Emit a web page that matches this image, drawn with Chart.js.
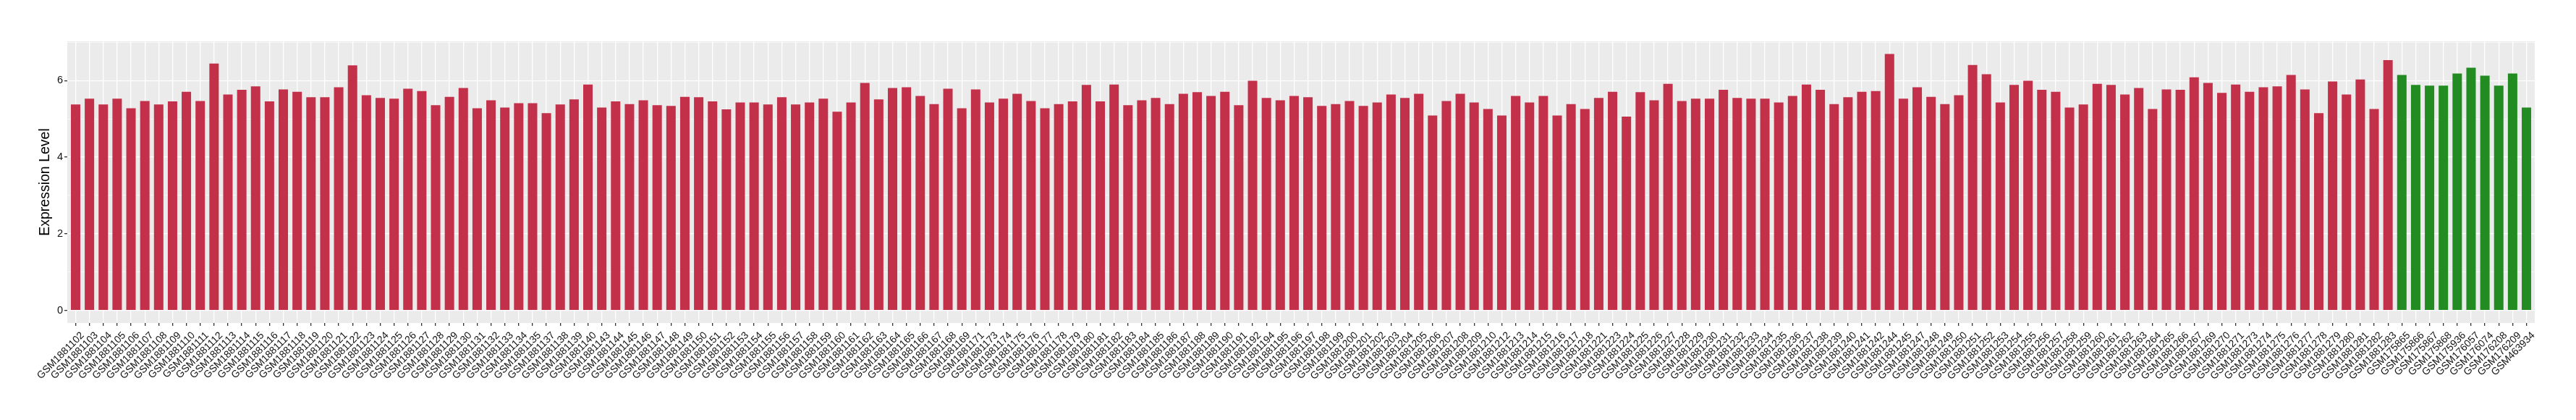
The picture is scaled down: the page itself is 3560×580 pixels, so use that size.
<!DOCTYPE html>
<html>
<head>
<meta charset="utf-8">
<title>Expression Level by sample</title>
<script src="https://cdn.jsdelivr.net/npm/chart.js@4.4.0/dist/chart.umd.min.js"></script>
<style>
  html, body { margin: 0; padding: 0; background: #ffffff; }
  #wrap { width: 3560px; height: 580px; }
</style>
</head>
<body>
<div id="wrap"><canvas id="exprChart" width="3560" height="580"></canvas></div>
<script>
// Samples of the first group (red bars)
var redSamples = [
    'GSM1881102','GSM1881103','GSM1881104','GSM1881105','GSM1881106','GSM1881107','GSM1881108','GSM1881109',
    'GSM1881110','GSM1881111','GSM1881112','GSM1881113','GSM1881114','GSM1881115','GSM1881116','GSM1881117',
    'GSM1881118','GSM1881119','GSM1881120','GSM1881121','GSM1881122','GSM1881123','GSM1881124','GSM1881125',
    'GSM1881126','GSM1881127','GSM1881128','GSM1881129','GSM1881130','GSM1881131','GSM1881132','GSM1881133',
    'GSM1881134','GSM1881135','GSM1881137','GSM1881138','GSM1881139','GSM1881140','GSM1881143','GSM1881144',
    'GSM1881145','GSM1881146','GSM1881147','GSM1881148','GSM1881149','GSM1881150','GSM1881151','GSM1881152',
    'GSM1881153','GSM1881154','GSM1881155','GSM1881156','GSM1881157','GSM1881158','GSM1881159','GSM1881160',
    'GSM1881161','GSM1881162','GSM1881163','GSM1881164','GSM1881165','GSM1881166','GSM1881167','GSM1881168',
    'GSM1881169','GSM1881171','GSM1881173','GSM1881174','GSM1881175','GSM1881176','GSM1881177','GSM1881178',
    'GSM1881179','GSM1881180','GSM1881181','GSM1881182','GSM1881183','GSM1881184','GSM1881185','GSM1881186',
    'GSM1881187','GSM1881188','GSM1881189','GSM1881190','GSM1881191','GSM1881192','GSM1881194','GSM1881195',
    'GSM1881196','GSM1881197','GSM1881198','GSM1881199','GSM1881200','GSM1881201','GSM1881202','GSM1881203',
    'GSM1881204','GSM1881205','GSM1881206','GSM1881207','GSM1881208','GSM1881209','GSM1881210','GSM1881212',
    'GSM1881213','GSM1881214','GSM1881215','GSM1881216','GSM1881217','GSM1881218','GSM1881221','GSM1881223',
    'GSM1881224','GSM1881225','GSM1881226','GSM1881227','GSM1881228','GSM1881229','GSM1881230','GSM1881231',
    'GSM1881232','GSM1881233','GSM1881234','GSM1881235','GSM1881236','GSM1881237','GSM1881238','GSM1881239',
    'GSM1881240','GSM1881241','GSM1881242','GSM1881244','GSM1881245','GSM1881247','GSM1881248','GSM1881249',
    'GSM1881250','GSM1881251','GSM1881252','GSM1881253','GSM1881254','GSM1881255','GSM1881256','GSM1881257',
    'GSM1881258','GSM1881259','GSM1881260','GSM1881261','GSM1881262','GSM1881263','GSM1881264','GSM1881265',
    'GSM1881266','GSM1881267','GSM1881269','GSM1881270','GSM1881271','GSM1881273','GSM1881274','GSM1881275',
    'GSM1881276','GSM1881277','GSM1881278','GSM1881279','GSM1881280','GSM1881281','GSM1881282','GSM1881283'
];
var redValues = [
    5.38, 5.53, 5.38, 5.53, 5.28, 5.47, 5.38, 5.46,
    5.71, 5.47, 6.45, 5.64, 5.76, 5.85, 5.46, 5.77,
    5.71, 5.57, 5.57, 5.83, 6.40, 5.62, 5.55, 5.53,
    5.79, 5.73, 5.36, 5.58, 5.81, 5.28, 5.49, 5.30,
    5.41, 5.41, 5.15, 5.38, 5.51, 5.90, 5.30, 5.46,
    5.39, 5.49, 5.36, 5.34, 5.58, 5.57, 5.46, 5.25,
    5.43, 5.43, 5.38, 5.57, 5.38, 5.43, 5.53, 5.19,
    5.43, 5.94, 5.51, 5.81, 5.83, 5.60, 5.39, 5.79,
    5.28, 5.77, 5.43, 5.53, 5.66, 5.47, 5.28, 5.39,
    5.46, 5.89, 5.46, 5.90, 5.36, 5.49, 5.55, 5.39,
    5.66, 5.70, 5.60, 5.71, 5.36, 6.00, 5.55, 5.49,
    5.60, 5.57, 5.34, 5.39, 5.47, 5.34, 5.43, 5.64,
    5.55, 5.66, 5.09, 5.47, 5.66, 5.43, 5.26, 5.09,
    5.60, 5.43, 5.60, 5.09, 5.39, 5.26, 5.55, 5.71,
    5.06, 5.70, 5.49, 5.92, 5.47, 5.53, 5.53, 5.76,
    5.55, 5.53, 5.53, 5.43, 5.60, 5.90, 5.76, 5.39,
    5.57, 5.71, 5.73, 6.70, 5.53, 5.83, 5.58, 5.39,
    5.62, 6.41, 6.17, 5.43, 5.89, 6.00, 5.76, 5.71,
    5.30, 5.38, 5.92, 5.89, 5.64, 5.81, 5.26, 5.77,
    5.76, 6.09, 5.94, 5.68, 5.90, 5.71, 5.83, 5.85,
    6.15, 5.77, 5.15, 5.98, 5.64, 6.03, 5.26, 6.54
];

// Samples of the second group (green bars)
var greenSamples = ['GSM175865','GSM175866','GSM175867','GSM175868','GSM175936',
                    'GSM176057','GSM176074','GSM176208','GSM176209','GSM463934'];
var greenValues = [6.15, 5.89, 5.87, 5.87, 6.19, 6.34, 6.13, 5.87, 6.19, 5.30];

// Y axis ticks that carry a label
var yTickLabels = [0, 2, 4, 6];

var redColor = '#C3304A';
var greenColor = '#228B22';

var sampleIds = redSamples.concat(greenSamples);
var expression = redValues.concat(greenValues);
var barColors = redSamples.map(function() { return redColor; })
    .concat(greenSamples.map(function() { return greenColor; }));

// grey ggplot-like panel behind the bars
var panelBackground = {
    id: 'panelBackground',
    beforeDraw: function(chart) {
        var a = chart.chartArea;
        var ctx = chart.ctx;
        ctx.save();
        ctx.fillStyle = '#EBEBEB';
        ctx.fillRect(a.left, a.top, a.right - a.left, a.bottom - a.top);
        ctx.restore();
    }
};

var fontFamily = '"Liberation Sans", Arial, Helvetica, sans-serif';
Chart.defaults.font.family = fontFamily;

var ctx = document.getElementById('exprChart').getContext('2d');
new Chart(ctx, {
    type: 'bar',
    data: {
        datasets: [{
            label: 'Expression Level',
            data: expression.map(function(v, i) { return { x: i, y: v }; }),
            backgroundColor: barColors,
            borderWidth: 0,
            barPercentage: 0.68,
            categoryPercentage: 1
        }]
    },
    options: {
        responsive: false,
        animation: false,
        devicePixelRatio: 1,
        layout: { padding: { left: 0, top: 57, right: 57, bottom: 0 } },
        plugins: {
            legend: { display: false },
            tooltip: { enabled: false }
        },
        scales: {
            x: {
                type: 'linear',
                min: -0.6,
                max: sampleIds.length - 0.4,
                offset: false,
                border: { display: false },
                grid: {
                    offset: false,
                    color: '#FFFFFF',
                    lineWidth: 1.3,
                    tickColor: '#333333',
                    tickLength: 4
                },
                ticks: {
                    stepSize: 1,
                    autoSkip: false,
                    includeBounds: false,
                    maxRotation: 45,
                    minRotation: 45,
                    labelOffset: 9.6,
                    padding: 5,
                    color: '#111111',
                    font: { size: 14 },
                    callback: function(value) { return sampleIds[value]; }
                },
                afterFit: function(scale) { scale.height = 134; }
            },
            y: {
                min: -0.33,
                max: 7.03,
                border: { display: false },
                grid: {
                    color: '#FFFFFF',
                    lineWidth: function(c) { return yTickLabels.indexOf(c.tick.value) >= 0 ? 1.3 : 0.6; },
                    tickColor: function(c) { return yTickLabels.indexOf(c.tick.value) >= 0 ? '#333333' : 'rgba(0,0,0,0)'; },
                    tickLength: 4
                },
                ticks: {
                    stepSize: 1,
                    includeBounds: false,
                    padding: 2,
                    color: '#111111',
                    font: { size: 14.5 },
                    callback: function(value) { return yTickLabels.indexOf(value) >= 0 ? String(value) : ''; }
                },
                title: {
                    display: true,
                    text: 'Expression Level',
                    color: '#000000',
                    font: { size: 19.5 },
                    padding: { top: 51, bottom: 0 }
                },
                afterFit: function(scale) { scale.width = 93; }
            }
        }
    },
    plugins: [panelBackground]
});
</script>
</body>
</html>
